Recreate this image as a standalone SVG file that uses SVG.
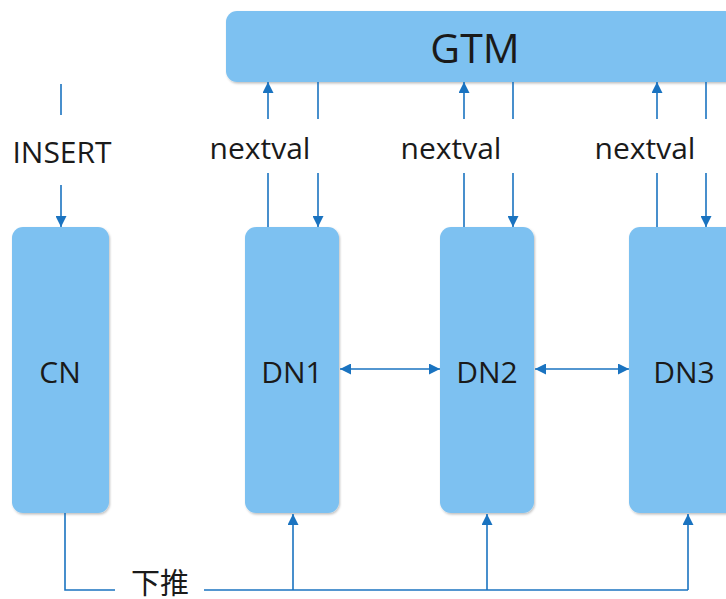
<svg xmlns="http://www.w3.org/2000/svg" width="726" height="599" viewBox="0 0 726 599">
<defs>
<marker id="ah" viewBox="0 0 10 10" refX="10" refY="5" markerWidth="11" markerHeight="11" markerUnits="userSpaceOnUse" orient="auto-start-reverse">
<path d="M0,0 L10,5 L0,10 Z" fill="#1a73c0"/>
</marker>
<filter id="sh" x="-5%" y="-5%" width="112%" height="112%">
<feDropShadow dx="1" dy="1.5" stdDeviation="1" flood-color="#000" flood-opacity="0.25"/>
</filter>
</defs>
<style>
.box{fill:#7dc1f1;filter:url(#sh)}
.t{font-family:"Open Sans","Noto Sans","Liberation Sans",sans-serif;fill:#1a1a1a;text-anchor:middle}
.c{fill:none;stroke:#1a73c0;stroke-width:1.6}
.a{marker-end:url(#ah)}
.d{marker-start:url(#ah);marker-end:url(#ah)}
</style>
<rect width="726" height="599" fill="#fff"/>
<g id="GTM"><rect class="box" x="226" y="11" width="510" height="71" rx="11"/><text class="t" x="475" y="63" font-size="41">GTM</text></g>
<g id="CN"><rect class="box" x="12" y="227" width="97" height="286" rx="11"/><text class="t" x="60" y="383" font-size="30">CN</text></g>
<g id="DN1"><rect class="box" x="245" y="227" width="94" height="286" rx="11"/><text class="t" x="292" y="383" font-size="30">DN1</text></g>
<g id="DN2"><rect class="box" x="440" y="227" width="94" height="286" rx="11"/><text class="t" x="487" y="383" font-size="30">DN2</text></g>
<g id="DN3"><rect class="box" x="629" y="227" width="110" height="286" rx="11"/><text class="t" x="684" y="383" font-size="30">DN3</text></g>
<g id="labels">
<text class="t" x="62" y="163" font-size="30">INSERT</text>
<text class="t" x="260" y="159" font-size="30">nextval</text>
<text class="t" x="451" y="159" font-size="30">nextval</text>
<text class="t" x="645" y="159" font-size="30">nextval</text>
<text class="t" x="160" y="594" font-size="29" style="font-family:'Noto Sans CJK SC',sans-serif">下推</text>
</g>
<g id="connectors">
<line class="c" x1="61" y1="84" x2="61" y2="115"/>
<line class="c a" x1="61" y1="185" x2="61" y2="227"/>
<line class="c" x1="268" y1="173" x2="268" y2="227"/>
<line class="c a" x1="268" y1="119" x2="268" y2="82"/>
<line class="c" x1="318" y1="82" x2="318" y2="119"/>
<line class="c a" x1="318" y1="173" x2="318" y2="227"/>
<line class="c" x1="464" y1="173" x2="464" y2="227"/>
<line class="c a" x1="464" y1="119" x2="464" y2="82"/>
<line class="c" x1="513" y1="82" x2="513" y2="119"/>
<line class="c a" x1="513" y1="173" x2="513" y2="227"/>
<line class="c" x1="657" y1="173" x2="657" y2="227"/>
<line class="c a" x1="657" y1="119" x2="657" y2="82"/>
<line class="c" x1="706" y1="82" x2="706" y2="119"/>
<line class="c a" x1="706" y1="173" x2="706" y2="227"/>
<line class="c d" x1="340" y1="369" x2="440" y2="369"/>
<line class="c d" x1="535" y1="369" x2="629" y2="369"/>
<polyline class="c" points="65,513 65,590 115,590"/>
<line class="c" x1="204" y1="590" x2="688" y2="590"/>
<line class="c a" x1="293" y1="590" x2="293" y2="514"/>
<line class="c a" x1="487" y1="590" x2="487" y2="514"/>
<line class="c a" x1="688" y1="590" x2="688" y2="514"/>
</g>
</svg>
